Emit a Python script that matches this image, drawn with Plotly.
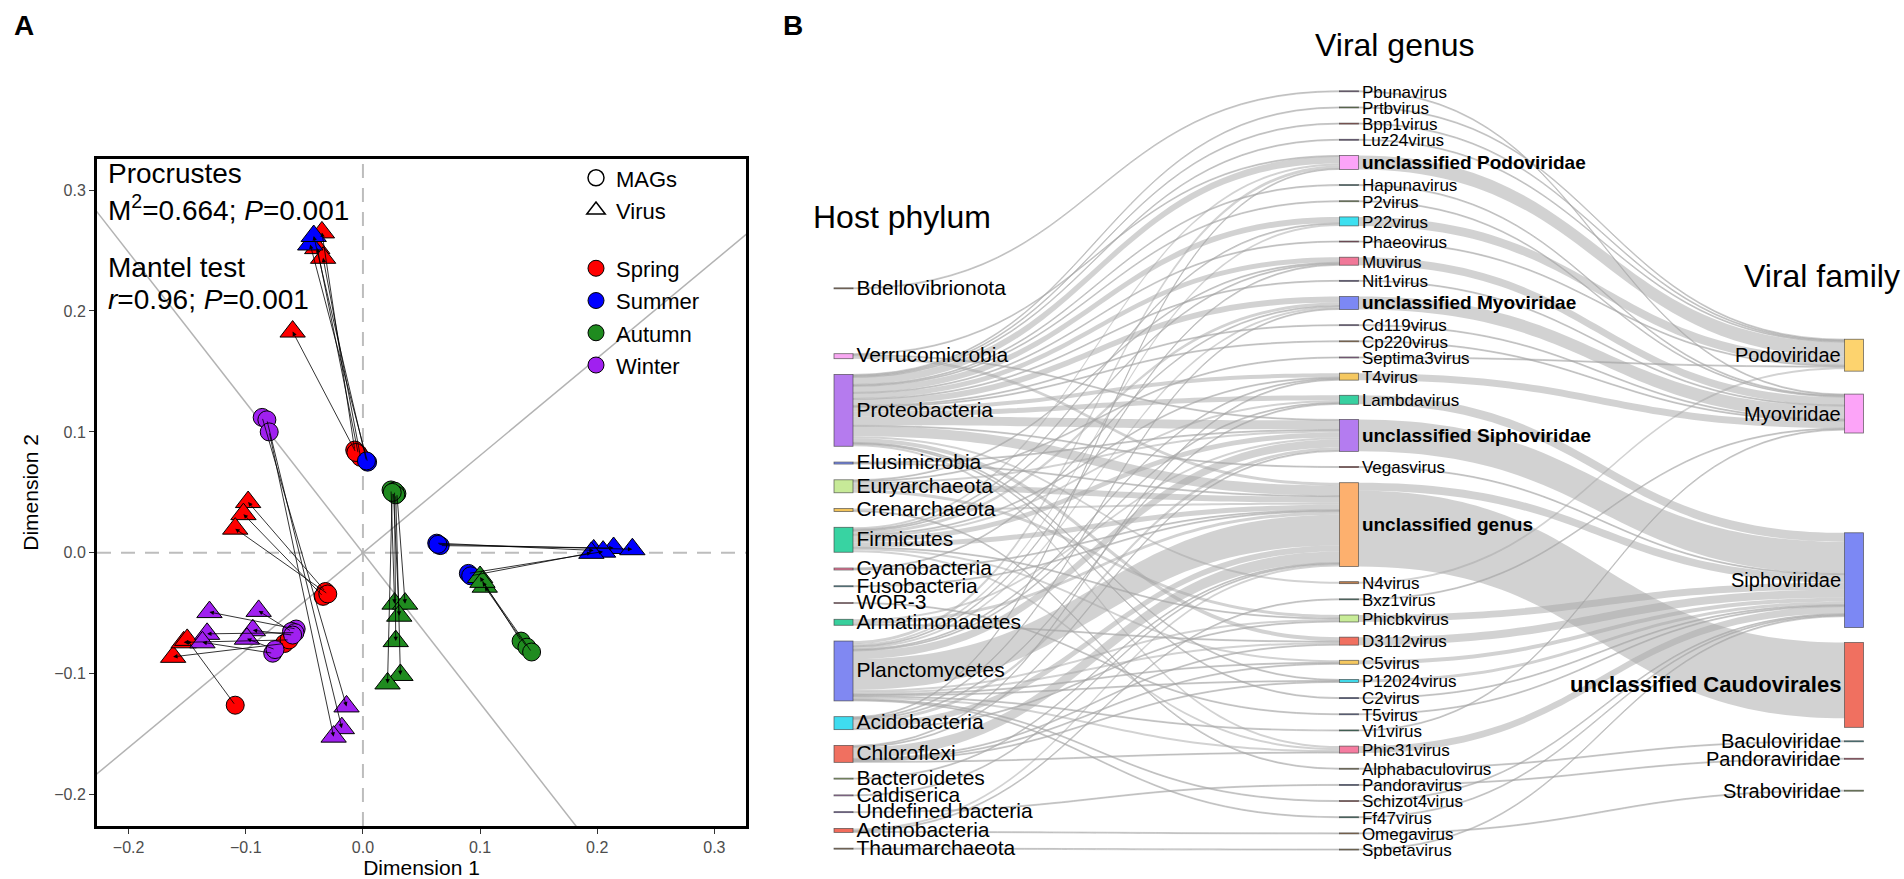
import plotly.graph_objects as go

# ======================= Panel A data (Procrustes) =======================
SEASONS = ["Spring", "Summer", "Autumn", "Winter"]
SEASON_COLORS = ["#ff0000", "#0000ff", "#1f8b1f", "#a020f0"]

spring_mag_x = [-0.007, -0.004, -0.002, -0.006, -0.032, -0.034, -0.030, -0.067, -0.063, -0.109]
spring_mag_y = [0.085, 0.082, 0.079, 0.083, -0.032, -0.036, -0.034, -0.075, -0.072, -0.126]
spring_vir_x = [-0.035, -0.039, -0.034, -0.060, -0.098, -0.102, -0.109, -0.162, -0.153, -0.150]
spring_vir_y = [0.265, 0.252, 0.244, 0.183, 0.042, 0.032, 0.020, -0.086, -0.074, -0.072]

summer_mag_x = [0.004, 0.003, 0.063, 0.066, 0.064, 0.090, 0.092]
summer_mag_y = [0.075, 0.076, 0.008, 0.006, 0.007, -0.017, -0.019]
summer_vir_x = [-0.045, -0.042, 0.197, 0.214, 0.230, 0.205, 0.195]
summer_vir_y = [0.255, 0.262, 0.002, 0.004, 0.003, 0.001, 0.000]

autumn_mag_x = [0.024, 0.029, 0.026, 0.027, 0.028, 0.025, 0.135, 0.140, 0.144]
autumn_mag_y = [0.052, 0.049, 0.050, 0.051, 0.048, 0.050, -0.073, -0.078, -0.082]
autumn_vir_x = [0.027, 0.036, 0.031, 0.028, 0.032, 0.021, 0.100, 0.104, 0.102]
autumn_vir_y = [-0.042, -0.042, -0.052, -0.073, -0.101, -0.108, -0.020, -0.028, -0.024]

winter_mag_x = [-0.086, -0.082, -0.080, -0.057, -0.061, -0.058, -0.077, -0.060, -0.075]
winter_mag_y = [0.112, 0.110, 0.100, -0.063, -0.065, -0.066, -0.083, -0.068, -0.080]
winter_vir_x = [-0.014, -0.018, -0.025, -0.131, -0.089, -0.133, -0.137, -0.094, -0.099]
winter_vir_y = [-0.127, -0.145, -0.152, -0.049, -0.048, -0.067, -0.074, -0.064, -0.071]

ROTATION_SLOPE = 0.805          # Procrustes rotation axis
X_RANGE = [-0.227, 0.327]
Y_RANGE = [-0.226, 0.326]
AXIS_TICKS = [-0.2, -0.1, 0.0, 0.1, 0.2, 0.3]

# ======================= Panel B data (Sankey) =======================
HOST = ["Bdellovibrionota", "Verrucomicrobia", "Proteobacteria", "Elusimicrobia",
        "Euryarchaeota", "Crenarchaeota", "Firmicutes", "Cyanobacteria", "Fusobacteria",
        "WOR-3", "Armatimonadetes", "Planctomycetes", "Acidobacteria", "Chloroflexi",
        "Bacteroidetes", "Caldiserica", "Undefined bacteria", "Actinobacteria", "Thaumarchaeota"]
HOST_COLORS = ["#b08560", "#f8a8f2", "#b57bee", "#7b8ef0", "#c7ea98", "#f2c35a", "#38d3a2",
               "#f07ea0", "#4aa3b8", "#d07a8c", "#38cf9c", "#8088f2", "#3fdcef", "#f07060",
               "#b5e07a", "#d48de0", "#8a6ad0", "#f26b5b", "#b08a60"]

GENUS = ["Pbunavirus", "Prtbvirus", "Bpp1virus", "Luz24virus", "unclassified Podoviridae",
         "Hapunavirus", "P2virus", "P22virus", "Phaeovirus", "Muvirus", "Nit1virus",
         "unclassified Myoviridae", "Cd119virus", "Cp220virus", "Septima3virus", "T4virus",
         "Lambdavirus", "unclassified Siphoviridae", "Vegasvirus", "unclassified genus",
         "N4virus", "Bxz1virus", "Phicbkvirus", "D3112virus", "C5virus", "P12024virus",
         "C2virus", "T5virus", "Vi1virus", "Phic31virus", "Alphabaculovirus", "Pandoravirus",
         "Schizot4virus", "Ff47virus", "Omegavirus", "Spbetavirus"]
GENUS_COLORS = ["#8a6a9a", "#80a060", "#c0605a", "#7a5a9a", "#fca4f8", "#4a8a8a", "#8aa860",
                "#3de0f0", "#b05a70", "#f07898", "#6a5aa0", "#7c88f4", "#8a70b0", "#c08850",
                "#c080c0", "#f5c860", "#38d0a0", "#b47cf0", "#b04040", "#fdb06e", "#c08050",
                "#4a8a7a", "#c8ec98", "#f07060", "#f5c860", "#40d8e8", "#4050a0", "#6070b0",
                "#3a8a6a", "#f57ca0", "#a09060", "#5060a0", "#b05050", "#2a7a6a", "#c08850",
                "#a89060"]

FAMILY = ["Podoviridae", "Myoviridae", "Siphoviridae", "unclassified Caudovirales",
          "Baculoviridae", "Pandoraviridae", "Straboviridae"]
FAMILY_COLORS = ["#fdd36e", "#fca4f8", "#7c88f4", "#f07060", "#3a9aa0", "#e05070", "#90b060"]
FAMILY_SIZE = [32, 39, 95, 85, 1, 1, 1]      # bar heights of the family column

# host phylum -> viral genus
HG_SOURCE = (["Bdellovibrionota"] + ["Verrucomicrobia"] * 3 + ["Proteobacteria"] * 23 +
             ["Elusimicrobia"] * 2 + ["Euryarchaeota"] * 5 + ["Crenarchaeota"] * 2 +
             ["Firmicutes"] * 11 + ["Cyanobacteria"] * 2 + ["Fusobacteria"] + ["WOR-3"] +
             ["Armatimonadetes"] * 3 + ["Planctomycetes"] * 16 + ["Acidobacteria"] * 6 +
             ["Chloroflexi"] * 7 + ["Bacteroidetes"] + ["Caldiserica"] + ["Undefined bacteria"] +
             ["Actinobacteria"] * 3 + ["Thaumarchaeota"])
HG_TARGET = (["Pbunavirus"] +
             ["unclassified Podoviridae", "unclassified Siphoviridae", "unclassified genus"] +
             ["Prtbvirus", "Bpp1virus", "Luz24virus", "unclassified Podoviridae", "Hapunavirus",
              "P2virus", "P22virus", "Phaeovirus", "Muvirus", "Nit1virus", "unclassified Myoviridae",
              "Cd119virus", "Cp220virus", "T4virus", "Lambdavirus", "unclassified Siphoviridae",
              "Vegasvirus", "unclassified genus", "N4virus", "D3112virus", "P12024virus",
              "C2virus", "Phic31virus"] +
             ["unclassified Siphoviridae", "unclassified genus"] +
             ["Muvirus", "Septima3virus", "unclassified Siphoviridae", "unclassified genus",
              "Phicbkvirus"] +
             ["unclassified genus", "Alphabaculovirus"] +
             ["unclassified Podoviridae", "P22virus", "Muvirus", "unclassified Myoviridae",
              "T4virus", "Lambdavirus", "unclassified Siphoviridae", "unclassified genus",
              "Phicbkvirus", "C5virus", "Phic31virus"] +
             ["unclassified Myoviridae", "unclassified genus"] +
             ["unclassified genus"] + ["T5virus"] +
             ["unclassified Siphoviridae", "unclassified genus", "D3112virus"] +
             ["unclassified Podoviridae", "P22virus", "Muvirus", "unclassified Myoviridae",
              "T4virus", "Lambdavirus", "unclassified Siphoviridae", "unclassified genus",
              "Phicbkvirus", "D3112virus", "C5virus", "P12024virus", "Vi1virus", "Phic31virus",
              "Schizot4virus", "Ff47virus"] +
             ["unclassified Podoviridae", "unclassified Myoviridae", "Lambdavirus",
              "unclassified Siphoviridae", "unclassified genus", "Phicbkvirus"] +
             ["T4virus", "unclassified Siphoviridae", "unclassified genus", "D3112virus",
              "C5virus", "P12024virus", "Phic31virus"] +
             ["unclassified genus"] + ["unclassified genus"] + ["Pandoravirus"] +
             ["unclassified genus", "Bxz1virus", "Omegavirus"] + ["Spbetavirus"])
HG_VALUE = ([1] + [1, 1, 3] +
            [1, 1, 1, 7, 1, 1, 6, 1, 5, 1, 6, 1, 1, 4, 5, 9, 1, 10, 2, 4, 1, 1, 2] +
            [1, 1] + [1, 1, 2, 6, 3] + [2, 1] +
            [2, 1, 1, 3, 1, 2, 5, 5, 1, 2, 2] + [1, 1] + [1] + [1] + [2, 3, 1] +
            [3, 2, 1, 2, 1, 1, 8, 31, 2, 2, 1, 1, 1, 2, 1, 1] +
            [1, 1, 1, 3, 6, 1] + [1, 1, 11, 1, 1, 1, 1] + [1] + [1] + [1] + [2, 1, 1] + [1])

# viral genus -> viral family
GF_SOURCE = ["Pbunavirus", "Prtbvirus", "Bpp1virus", "Luz24virus", "unclassified Podoviridae",
             "Hapunavirus", "P2virus", "P22virus", "Phaeovirus", "Muvirus", "Nit1virus",
             "unclassified Myoviridae", "Cd119virus", "Cp220virus", "Septima3virus", "T4virus",
             "Lambdavirus", "unclassified Siphoviridae", "Vegasvirus", "unclassified genus",
             "unclassified genus", "N4virus", "Bxz1virus", "Phicbkvirus", "D3112virus", "C5virus",
             "P12024virus", "C2virus", "T5virus", "Vi1virus", "Phic31virus", "Alphabaculovirus",
             "Pandoravirus", "Schizot4virus", "Ff47virus", "Omegavirus", "Spbetavirus"]
GF_TARGET = ["Myoviridae", "Podoviridae", "Podoviridae", "Podoviridae", "Podoviridae",
             "Myoviridae", "Myoviridae", "Podoviridae", "Podoviridae", "Myoviridae", "Myoviridae",
             "Myoviridae", "Myoviridae", "Myoviridae", "Podoviridae", "Myoviridae",
             "Siphoviridae", "Siphoviridae", "Siphoviridae", "unclassified Caudovirales",
             "Siphoviridae", "Podoviridae", "Myoviridae", "Siphoviridae", "Siphoviridae",
             "Siphoviridae", "Siphoviridae", "Siphoviridae", "Siphoviridae", "Myoviridae",
             "Siphoviridae", "Baculoviridae", "Pandoraviridae", "Siphoviridae", "Siphoviridae",
             "Straboviridae", "Siphoviridae"]
GF_VALUE = [1, 1, 1, 1, 14, 1, 1, 9, 1, 8, 1, 13, 1, 1, 1, 7, 9, 32, 1, 76, 8, 2, 1, 7, 8, 4,
            3, 1, 1, 1, 7, 1, 1, 1, 1, 1, 1]

BOLD_LABELS = ["unclassified Podoviridae", "unclassified Myoviridae", "unclassified Siphoviridae",
               "unclassified genus", "unclassified Caudovirales"]

# ======================= Layout constants (pixels) =======================
W, H = 1904, 879
FONT = "Liberation Sans"
A_LEFT, A_RIGHT, A_TOP, A_BOTTOM = 97, 746, 159, 828

SK_LEFT, SK_RIGHT = 834, 1904
SK_TOP = 60
NODE_W = 19
COL_CENTER_PX = [843.5, 1349, 1854, 2300]   # last: hidden sizing column (off canvas)
COL_LABEL_PX = [21, 17, 20]
KY = 1.0                                    # pixels per unit of flow
HOST_START, HOST_GAPS = 288.5, [65] + [15.8] * 17
GENUS_START, GENUS_GAPS = 91, [15.2] * 35
FAMILY_START, FAMILY_GAPS = 340, [23, 100, 15, 13.5, 16.5, 31]

fig = go.Figure()

# ---- rotation axes and season points ----
xs = [X_RANGE[0] - 0.1, X_RANGE[1] + 0.1]
for slope in [ROTATION_SLOPE, -1.0 / ROTATION_SLOPE]:
    fig.add_trace(go.Scatter(x=xs, y=[slope * v for v in xs], mode="lines",
                             line=dict(color="#b3b3b3", width=1.5), showlegend=False,
                             hoverinfo="skip"))

LEG = '<span style="font-size:22px">%s</span>'
fig.add_trace(go.Scatter(x=[None], y=[None], mode="markers", name=LEG % "MAGs",
                         legendgroup="shape",
                         marker=dict(symbol="circle-open", size=17, color="black",
                                     line=dict(width=1.5))))
fig.add_trace(go.Scatter(x=[None], y=[None], mode="markers", name=LEG % "Virus",
                         legendgroup="shape",
                         marker=dict(symbol="triangle-up-open", size=17, color="black",
                                     line=dict(width=1.5))))

season_data = [
    (spring_mag_x, spring_mag_y, spring_vir_x, spring_vir_y),
    (summer_mag_x, summer_mag_y, summer_vir_x, summer_vir_y),
    (autumn_mag_x, autumn_mag_y, autumn_vir_x, autumn_vir_y),
    (winter_mag_x, winter_mag_y, winter_vir_x, winter_vir_y),
]
for name, col, (mx, my, vx, vy) in zip(SEASONS, SEASON_COLORS, season_data):
    fig.add_trace(go.Scatter(x=mx, y=my, mode="markers", name=LEG % name, legendgroup="season",
                             marker=dict(symbol="circle", size=18, color=col,
                                         line=dict(color="black", width=1))))
for name, col, (mx, my, vx, vy) in zip(SEASONS, SEASON_COLORS, season_data):
    fig.add_trace(go.Scatter(x=vx, y=vy, mode="markers", name=name, showlegend=False,
                             marker=dict(symbol="triangle-up", size=22, color=col,
                                         line=dict(color="black", width=1))))

annotations = []
for (mx, my, vx, vy) in season_data:
    for x0, y0, x1, y1 in zip(mx, my, vx, vy):
        annotations.append(dict(x=x1, y=y1, ax=x0, ay=y0, xref="x", yref="y", axref="x",
                                ayref="y", text="", showarrow=True, arrowhead=2,
                                arrowsize=1.1, arrowwidth=0.8, arrowcolor="black", standoff=0))

# ---- Sankey ----
def totals(names, src, tgt, val):
    out = []
    for n in names:
        a = sum(v for s, v in zip(src, val) if s == n)
        b = sum(v for t, v in zip(tgt, val) if t == n)
        out.append(max(a, b))
    return out

def stack(vals, start, gaps):
    centers, y = [], start
    for i, v in enumerate(vals):
        if i > 0:
            y += gaps[i - 1]
        centers.append(y + v * KY / 2)
        y += v * KY
    return centers

# hidden sizing links (off canvas) give the family bars their drawn heights
sizer_names = ["sizer%d" % i for i in range(len(FAMILY))]
all_src = HG_SOURCE + GF_SOURCE + FAMILY
all_tgt = HG_TARGET + GF_TARGET + sizer_names
all_val = HG_VALUE + GF_VALUE + FAMILY_SIZE
link_colors = (["rgba(165,165,165,0.5)"] * (len(HG_VALUE) + len(GF_VALUE)) +
               ["rgba(0,0,0,0)"] * len(FAMILY))

total_flow = sum(HG_VALUE)
SK_H = 3 * total_flow * KY      # plotly caps node padding at 2/3 of the column height
sk_w = SK_RIGHT - SK_LEFT

def label_html(name, size):
    txt = "<b>%s</b>" % name if name in BOLD_LABELS else name
    return '<span style="font-size:%dpx">%s</span>' % (size + (2 if name in BOLD_LABELS else 0), txt)

labels, colors, node_x, node_y, index = [], [], [], [], {}
columns = [(HOST, HOST_COLORS, HOST_START, HOST_GAPS),
           (GENUS, GENUS_COLORS, GENUS_START, GENUS_GAPS),
           (FAMILY, FAMILY_COLORS, FAMILY_START, FAMILY_GAPS)]
fam_centers = None
for ci, (names, cols, start, gap) in enumerate(columns):
    vals = totals(names, all_src, all_tgt, all_val)
    centers = stack(vals, start, gap)
    if ci == 2:
        fam_centers = centers
    for n, c, yc in zip(names, cols, centers):
        index[n] = len(labels)
        # family labels are written on the left of their bars below
        labels.append("" if ci == 2 else label_html(n, COL_LABEL_PX[ci]))
        colors.append(c)
        node_x.append((COL_CENTER_PX[ci] - SK_LEFT) / sk_w)
        node_y.append((yc - SK_TOP) / SK_H)
for name, yc in zip(sizer_names, fam_centers):
    index[name] = len(labels)
    labels.append("")
    colors.append("rgba(0,0,0,0)")
    node_x.append((COL_CENTER_PX[3] - SK_LEFT) / sk_w)
    node_y.append((yc - SK_TOP) / SK_H)

textfont = dict(size=18, color="black", family=FONT)
try:
    go.sankey.Textfont(shadow="none")
    textfont["shadow"] = "none"
except Exception:
    pass

fig.add_trace(go.Sankey(
    domain=dict(x=[SK_LEFT / W, 1.0], y=[1 - (SK_TOP + SK_H) / H, 1 - SK_TOP / H]),
    arrangement="fixed",
    hoverinfo="skip",
    textfont=textfont,
    node=dict(label=labels, color=colors, x=node_x, y=node_y, pad=40, thickness=NODE_W,
              line=dict(color="rgba(60,60,60,0.75)", width=0.8)),
    link=dict(source=[index[s] for s in all_src], target=[index[t] for t in all_tgt],
              value=all_val, color=link_colors),
))

# ---- texts ----
def ptxt(text, x, y, size, xanchor="left", yanchor="middle"):
    return dict(text=text, x=x / W, y=1 - y / H, xref="paper", yref="paper",
                xanchor=xanchor, yanchor=yanchor, showarrow=False, align="left",
                font=dict(size=size, family=FONT, color="black"))

fam_label_x = COL_CENTER_PX[2] - NODE_W / 2 - 2
for n, yc in zip(FAMILY, fam_centers):
    a = ptxt(label_html(n, COL_LABEL_PX[2]), fam_label_x, yc, 20, xanchor="right")
    a["xshift"] = 0
    annotations.append(a)

annotations += [
    ptxt("<b>A</b>", 12, 8, 28, yanchor="top"),
    ptxt("<b>B</b>", 781, 8, 28, yanchor="top"),
    ptxt("Procrustes", 106, 174, 28),
    ptxt("M<sup>2</sup>=0.664; <i>P</i>=0.001", 106, 208, 28),
    ptxt("Mantel test", 106, 268, 28),
    ptxt("<i>r</i>=0.96; <i>P</i>=0.001", 106, 300, 28),
    ptxt("Host phylum", 811, 217, 32),
    ptxt("Viral genus", 1395, 45, 32, xanchor="center"),
    ptxt("Viral family", 1902, 277, 32, xanchor="right"),
]

axis_common = dict(tickvals=AXIS_TICKS, tickformat=".1f", ticks="outside",
                   ticklen=5, tickwidth=1, tickcolor="#333333",
                   tickfont=dict(size=16, color="#4d4d4d", family=FONT),
                   showline=True, linewidth=3, linecolor="black", mirror=True,
                   showgrid=False, zeroline=False)

fig.update_layout(
    width=W, height=H, margin=dict(l=0, r=0, t=0, b=0),
    paper_bgcolor="white", plot_bgcolor="white",
    font=dict(family=FONT, color="black"),
    xaxis=dict(axis_common, range=X_RANGE, domain=[A_LEFT / W, A_RIGHT / W],
               title=dict(text="Dimension 1", font=dict(size=21, family=FONT), standoff=8)),
    yaxis=dict(axis_common, range=Y_RANGE, domain=[1 - A_BOTTOM / H, 1 - A_TOP / H],
               title=dict(text="Dimension 2", font=dict(size=21, family=FONT), standoff=10)),
    shapes=[
        dict(type="line", xref="x", yref="y domain", x0=0, x1=0, y0=0, y1=1, layer="below",
             line=dict(color="#bdbdbd", width=2, dash="14px,10px")),
        dict(type="line", xref="x domain", yref="y", x0=0, x1=1, y0=0, y1=0, layer="below",
             line=dict(color="#bdbdbd", width=2, dash="14px,10px")),
    ],
    annotations=annotations,
    showlegend=True,
    legend=dict(x=576 / W, y=1 - 157 / H, xanchor="left", yanchor="top",
                bgcolor="rgba(0,0,0,0)", font=dict(size=22.5, family=FONT, color="black"),
                tracegroupgap=26, itemclick=False, itemdoubleclick=False),
)

fig.write_html("out.html", config={"displayModeBar": False},
               post_script="document.body.style.margin='0px';")
